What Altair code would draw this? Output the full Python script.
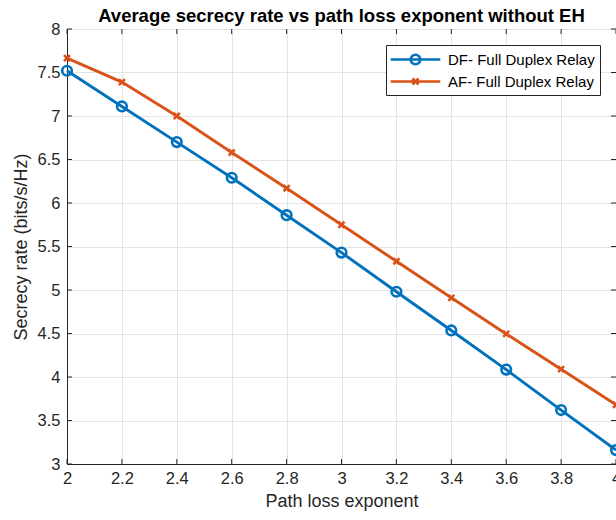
import altair as alt
import pandas as pd

# Path loss exponent values and the average secrecy rate of each relay scheme
path_loss = [2.0, 2.2, 2.4, 2.6, 2.8, 3.0, 3.2, 3.4, 3.6, 3.8, 4.0]
df_rate = [7.52, 7.11, 6.70, 6.29, 5.86, 5.43, 4.98, 4.535, 4.085, 3.62, 3.16]
af_rate = [7.665, 7.39, 7.00, 6.58, 6.17, 5.75, 5.33, 4.91, 4.495, 4.09, 3.68]

series_names = ["DF- Full Duplex Relay", "AF- Full Duplex Relay"]
series_colors = ["#0072BD", "#D95319"]

x_ticks = [2.0, 2.2, 2.4, 2.6, 2.8, 3.0, 3.2, 3.4, 3.6, 3.8, 4.0]
y_ticks = [3, 3.5, 4, 4.5, 5, 5.5, 6, 6.5, 7, 7.5, 8]

W, H = 549, 435
FONT = "Liberation Sans"
INK = "#262626"
TICK_LEN = 5

data = pd.DataFrame({
    "exponent": path_loss * 2,
    "rate": df_rate + af_rate,
    "series": [series_names[0]] * len(path_loss) + [series_names[1]] * len(path_loss),
})

# Marker glyphs: open circle and diagonal cross
circle_path = "M-1,0A1,1 0 1,1 1,0A1,1 0 1,1 -1,0Z"
xmark_path = "M-1,-1L1,1M-1,1L1,-1"
# Legend glyphs: a long line segment with the marker in its middle
legend_df = "M-3.1,0H3.1M-0.6,0A0.6,0.6 0 1,1 0.6,0A0.6,0.6 0 1,1 -0.6,0"
legend_af = "M-3.1,0H3.1M-0.38,-0.38L0.38,0.38M-0.38,0.38L0.38,-0.38"

x_scale = alt.Scale(domain=[2, 4], nice=False, zero=False)
y_scale = alt.Scale(domain=[3, 8], nice=False, zero=False)


def color_scale():
    return alt.Scale(domain=series_names, range=series_colors)


x_enc = alt.X("exponent:Q", scale=x_scale, title="Path loss exponent",
              axis=alt.Axis(values=x_ticks, format="~g", tickSize=0, labelPadding=6,
                            labelFlush=False, titlePadding=6, domainColor=INK))
y_enc = alt.Y("rate:Q", scale=y_scale, title="Secrecy rate (bits/s/Hz)",
              axis=alt.Axis(values=y_ticks, format="~g", tickSize=0, labelPadding=7,
                            labelFlush=False, titlePadding=7, domainColor=INK))

lines = alt.Chart(data).mark_line(strokeWidth=2.9, clip=False).encode(
    x=x_enc,
    y=y_enc,
    color=alt.Color("series:N", scale=color_scale(), legend=None),
)

circles = alt.Chart(data).transform_filter(
    alt.datum.series == series_names[0]
).mark_point(shape=circle_path, size=92, strokeWidth=2.6, filled=False, opacity=1).encode(
    x=alt.X("exponent:Q", scale=x_scale),
    y=alt.Y("rate:Q", scale=y_scale),
    color=alt.Color("series:N", scale=color_scale(), legend=None),
)

crosses = alt.Chart(data).transform_filter(
    alt.datum.series == series_names[1]
).mark_point(shape=xmark_path, size=36, strokeWidth=2.6, filled=False, opacity=1).encode(
    x=alt.X("exponent:Q", scale=x_scale),
    y=alt.Y("rate:Q", scale=y_scale),
    color=alt.Color("series:N", scale=color_scale(), legend=None),
)

# Legend-only layer: transparent points, the legend keeps its own opacity
series_legend = alt.Legend(orient="top-right", offset=16, symbolSize=256, symbolOpacity=1,
                           symbolOffset=15, labelOffset=23)
legend_layer = alt.Chart(data).mark_point(
    filled=False, strokeWidth=2.6, opacity=0
).encode(
    x=alt.X("exponent:Q", scale=x_scale),
    y=alt.Y("rate:Q", scale=y_scale),
    color=alt.Color("series:N", scale=color_scale(), title=None, legend=series_legend),
    shape=alt.Shape("series:N", scale=alt.Scale(domain=series_names, range=[legend_df, legend_af]),
                    title=None, legend=series_legend),
)

# Inward tick marks on all four sides of the box
xt = pd.DataFrame({"exponent": x_ticks})
yt = pd.DataFrame({"rate": y_ticks})
tick_style = dict(color=INK, strokeWidth=1)
bottom_ticks = alt.Chart(xt).mark_rule(**tick_style).encode(
    x=alt.X("exponent:Q", scale=x_scale), y=alt.value(H), y2=alt.value(H - TICK_LEN))
top_ticks = alt.Chart(xt).mark_rule(**tick_style).encode(
    x=alt.X("exponent:Q", scale=x_scale), y=alt.value(0), y2=alt.value(TICK_LEN))
left_ticks = alt.Chart(yt).mark_rule(**tick_style).encode(
    y=alt.Y("rate:Q", scale=y_scale), x=alt.value(0), x2=alt.value(TICK_LEN))
right_ticks = alt.Chart(yt).mark_rule(**tick_style).encode(
    y=alt.Y("rate:Q", scale=y_scale), x=alt.value(W), x2=alt.value(W - TICK_LEN))

chart = alt.layer(
    bottom_ticks, top_ticks, left_ticks, right_ticks, lines, circles, crosses, legend_layer
).resolve_scale(
    color="independent", shape="independent"
).properties(
    width=W,
    height=H,
    background="#ffffff",
    title=alt.TitleParams("Average secrecy rate vs path loss exponent without EH",
                          font=FONT, fontSize=18.5, fontWeight="bold", color="#000000",
                          frame="group", offset=-4),
    autosize=alt.AutoSizeParams(type="none"),
    padding={"left": 67, "top": 29, "right": 0, "bottom": 56},
).configure_view(
    stroke=INK, strokeWidth=1
).configure_axis(
    labelFont=FONT, titleFont=FONT, labelFontSize=16.5, titleFontSize=18,
    labelColor=INK, titleColor=INK, titleFontWeight="normal",
    grid=True, gridColor="#e3e3e3", gridWidth=1,
).configure_legend(
    labelFont=FONT, labelFontSize=15, labelColor="#000000",
    strokeColor=INK, fillColor="#ffffff", padding=5, cornerRadius=0,
    rowPadding=2, symbolStrokeWidth=2.6,
)

chart.save("out.html", embed_options={"renderer": "svg", "actions": False})
